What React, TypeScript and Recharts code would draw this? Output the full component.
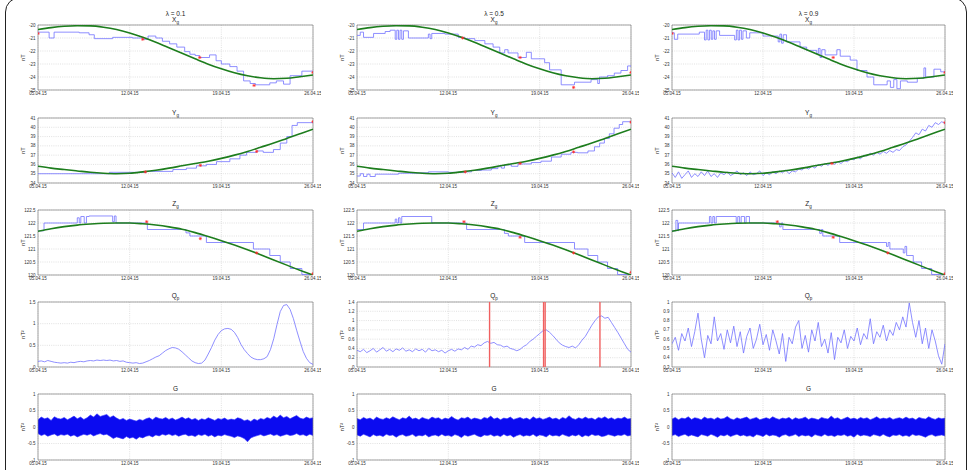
import React from 'react';
import {
  ComposedChart,
  Line,
  Area,
  Scatter,
  XAxis,
  YAxis,
  CartesianGrid,
  ReferenceLine,
  ReferenceArea,
  Label,
} from 'recharts';

// time axis, in days since 05.04.15
const DAY_TICKS = [0, 7, 14, 21];
const DATE_LABELS = ['05.04.15', '12.04.15', '19.04.15', '26.04.15'];
const LAMBDAS = ['0.1', '0.5', '0.9'];

const DAYS = [0, 1, 2, 3, 4, 5, 6, 7, 8, 9, 10, 11, 12, 13, 14, 15, 16, 17, 18, 19, 20, 21];
const T_FINE = [
  0, 0.25, 0.5, 0.75, 1, 1.25, 1.5, 1.75, 2, 2.25, 2.5, 2.75, 3, 3.25, 3.5, 3.75, 4, 4.25, 4.5, 4.75,
  5, 5.25, 5.5, 5.75, 6, 6.25, 6.5, 6.75, 7, 7.25, 7.5, 7.75, 8, 8.25, 8.5, 8.75, 9, 9.25, 9.5, 9.75,
  10, 10.25, 10.5, 10.75, 11, 11.25, 11.5, 11.75, 12, 12.25, 12.5, 12.75, 13, 13.25, 13.5, 13.75, 14,
  14.25, 14.5, 14.75, 15, 15.25, 15.5, 15.75, 16, 16.25, 16.5, 16.75, 17, 17.25, 17.5, 17.75, 18, 18.25,
  18.5, 18.75, 19, 19.25, 19.5, 19.75, 20, 20.25, 20.5, 20.75, 21,
];

// ---- X_g (nT) ----
const XG_MODEL = [
  -20.35, -20.2, -20.1, -20.06, -20.07, -20.17, -20.35, -20.62, -20.95, -21.33, -21.75, -22.18, -22.6,
  -23.01, -23.37, -23.68, -23.91, -24.06, -24.13, -24.1, -23.98, -23.85,
];
const XG_EST_01: [number, number][] = [
  [0, -20.55], [0.85, -21.0], [1.23, -20.55], [3.15, -20.6], [3.9, -20.75], [4.3, -21.05], [5.7, -20.95],
  [7.2, -21.0], [8.0, -21.1], [8.4, -20.85], [9.0, -21.0], [9.5, -21.25], [10.05, -21.45], [10.6, -21.7],
  [11.2, -22.05], [11.6, -22.25], [12.0, -22.35], [12.35, -22.5], [13.1, -22.3], [13.6, -22.75], [14.0, -23.0],
  [14.65, -23.2], [15.2, -23.55], [15.7, -24.3], [16.2, -24.5], [16.6, -24.6], [17.7, -24.45], [18.2, -24.3],
  [18.75, -24.55], [19.25, -23.9], [20.15, -23.55], [21, -23.55],
];
const XG_EST_05: [number, number][] = [
  [0, -20.8], [0.25, -20.55], [0.5, -20.95], [1.27, -20.65], [2.16, -20.5], [2.54, -20.4], [2.93, -21.1],
  [3.05, -20.4], [3.18, -21.1], [3.3, -20.4], [3.43, -21.1], [3.56, -20.45], [3.94, -21.0], [5.47, -20.7],
  [5.6, -21.05], [5.73, -20.65], [6.74, -20.7], [7.76, -20.95], [8.27, -21.05], [9.03, -21.2], [9.8, -21.45],
  [10.43, -21.7], [10.94, -22.15], [11.32, -21.9], [11.58, -22.15], [12.34, -22.5], [12.98, -22.1],
  [13.36, -22.6], [14.38, -22.9], [14.76, -23.45], [15.65, -24.6], [16.67, -24.4], [17.94, -24.2],
  [18.45, -24.5], [18.58, -24.0], [19.2, -23.9], [19.72, -23.7], [20.23, -23.5], [20.74, -23.15], [21, -23.2],
];
const XG_EST_09: [number, number][] = [
  [0, -20.6], [0.18, -21.1], [0.44, -20.7], [2.1, -20.55], [2.5, -21.15], [2.63, -20.4], [2.76, -21.15],
  [2.89, -20.4], [3.02, -21.1], [3.14, -20.45], [3.27, -21.1], [3.4, -20.45], [3.66, -20.8], [4.82, -21.15],
  [4.95, -20.4], [5.08, -21.15], [5.2, -20.4], [5.34, -21.1], [5.46, -20.45], [5.72, -21.0], [5.98, -20.6],
  [7.0, -20.85], [8.17, -21.3], [8.3, -20.7], [8.43, -21.4], [8.56, -20.75], [8.81, -21.3], [9.85, -21.7],
  [10.36, -21.95], [11.13, -22.2], [11.26, -21.8], [11.39, -22.5], [11.52, -21.9], [11.78, -22.3],
  [12.68, -21.9], [12.94, -22.4], [13.71, -22.7], [14.23, -23.5], [15.0, -24.0], [15.52, -24.6],
  [16.55, -24.3], [16.8, -24.8], [17.06, -24.2], [17.3, -24.9], [17.57, -24.3], [18.1, -24.4],
  [18.87, -24.1], [19.38, -23.3], [19.51, -24.0], [20.15, -23.4], [20.67, -23.6], [21, -23.6],
];
const XG_OBS_01: [number, number][] = [[0, -20.65], [8.0, -21.1], [12.35, -22.5], [16.5, -24.65], [21, -23.65]];
const XG_OBS_05: [number, number][] = [[8.1, -21.0], [12.5, -22.5], [16.6, -24.8], [21, -23.65]];
const XG_OBS_09: [number, number][] = [[0, -20.65], [12.4, -22.5], [21, -23.65]];

// ---- Y_g (nT) ----
const YG_MODEL = [
  35.8, 35.6, 35.45, 35.3, 35.15, 35.05, 35.0, 35.05, 35.2, 35.38, 35.6, 35.85, 36.1, 36.35, 36.65, 37.0,
  37.4, 37.85, 38.3, 38.8, 39.3, 39.8,
];
const YG_EST_01: [number, number][] = [
  [0, 35.0], [5.45, 35.15], [8.26, 35.25], [10.3, 35.45], [11.33, 35.6], [12.1, 35.85], [12.86, 36.0],
  [13.63, 36.3], [14.65, 36.6], [15.42, 37.0], [15.93, 37.3], [16.7, 37.45], [17.2, 37.3], [17.98, 37.6],
  [18.5, 38.3], [19.0, 39.0], [19.4, 40.2], [19.8, 40.5], [21, 40.55],
];
const YG_EST_05: [number, number][] = [
  [0, 34.75], [0.25, 35.0], [0.5, 34.7], [0.76, 34.95], [1.0, 34.7], [1.4, 34.95], [3.18, 35.05],
  [4.7, 35.1], [5.47, 35.2], [7.0, 35.15], [8.27, 35.2], [8.78, 35.35], [9.54, 35.4], [10.3, 35.55],
  [10.8, 35.75], [11.07, 35.6], [11.3, 35.95], [11.83, 35.8], [12.34, 36.05], [13.36, 36.2], [14.1, 36.35],
  [14.9, 36.8], [15.65, 37.1], [16.4, 37.3], [16.9, 37.25], [17.7, 37.45], [18.2, 37.9], [18.6, 38.3],
  [18.96, 38.8], [19.34, 39.3], [19.7, 39.9], [20.1, 40.3], [20.36, 40.6], [21, 40.55],
];
const YG_EST_09 = [
  35.1, 34.6, 35.2, 34.5, 34.9, 35.3, 34.6, 35.0, 34.7, 35.2,
  34.8, 35.3, 34.7, 35.0, 34.6, 35.1, 34.9, 35.2, 34.8, 35.0,
  35.3, 34.9, 35.1, 34.8, 35.2, 34.9, 35.0, 35.3, 34.8, 35.1,
  34.9, 35.2, 35.0, 35.3, 35.1, 35.4, 35.0, 35.3, 35.2, 35.5,
  35.4, 35.7, 35.5, 35.8, 35.6, 36.0, 35.8, 36.1, 35.9, 36.2,
  36.0, 36.3, 36.1, 36.4, 36.3, 36.6, 36.5, 36.8, 36.6, 37.0,
  36.9, 37.2, 37.0, 37.3, 37.1, 37.4, 37.2, 37.5, 37.3, 37.6,
  37.5, 37.9, 38.1, 38.5, 38.9, 39.4, 39.2, 39.8, 39.6, 40.2,
  40.0, 40.5, 40.3, 40.6, 40.4,
];
const YG_OBS_01: [number, number][] = [[8.2, 35.2], [12.4, 35.9], [16.7, 37.4], [21, 40.6]];
const YG_OBS_05: [number, number][] = [[8.3, 35.2], [12.5, 36.1], [16.6, 37.35], [21, 40.55]];
const YG_OBS_09: [number, number][] = [[12.3, 36.1], [21, 40.5]];

// ---- Z_g (nT) ----
const ZG_MODEL = [
  121.68, 121.78, 121.86, 121.92, 121.96, 121.99, 122.0, 122.0, 121.97, 121.92, 121.85, 121.76, 121.63,
  121.48, 121.32, 121.15, 120.97, 120.78, 120.58, 120.38, 120.18, 120.0,
];
const ZG_EST_01: [number, number][] = [
  [0, 121.7], [0.46, 122.0], [3.0, 122.2], [3.15, 122.0], [3.27, 122.25], [3.53, 122.0], [3.7, 122.25],
  [3.9, 122.27], [5.7, 122.05], [5.83, 122.27], [5.96, 122.0], [8.35, 121.75], [11.3, 121.62],
  [11.6, 121.5], [12.86, 121.25], [16.45, 121.0], [17.7, 120.75], [18.5, 120.5], [19.26, 120.25],
  [20.15, 120.02], [21, 120.02],
];
const ZG_EST_05: [number, number][] = [
  [0, 121.75], [0.5, 122.0], [2.93, 122.15], [3.05, 122.0], [3.18, 122.2], [3.3, 122.0], [3.43, 122.25],
  [5.73, 122.0], [8.4, 121.75], [11.3, 121.6], [11.6, 121.5], [12.85, 121.25], [16.67, 121.0],
  [17.7, 120.75], [18.45, 120.5], [19.2, 120.25], [19.97, 120.02], [21, 120.02],
];
const ZG_EST_09: [number, number][] = [
  [0, 121.7], [0.3, 122.1], [0.44, 121.7], [0.5, 122.0], [2.88, 122.25], [3.0, 122.0], [3.14, 122.25],
  [3.26, 122.0], [3.4, 122.25], [4.94, 122.0], [5.06, 122.25], [5.2, 122.0], [5.32, 122.25], [5.58, 122.0],
  [5.7, 122.25], [5.96, 122.0], [8.28, 121.85], [8.4, 122.0], [8.53, 121.75], [11.36, 121.6],
  [11.49, 121.75], [11.6, 121.5], [12.9, 121.25], [16.5, 121.1], [16.63, 121.25], [16.76, 121.0],
  [17.79, 120.85], [17.92, 121.1], [18.05, 120.75], [18.56, 120.5], [19.2, 120.25], [19.97, 120.02],
  [21, 120.02],
];
const ZG_OBS_01: [number, number][] = [[8.3, 122.05], [12.4, 121.4], [16.7, 120.85], [21, 120.05]];
const ZG_OBS_05: [number, number][] = [[8.2, 122.05], [12.5, 121.45], [16.6, 120.85], [21, 120.1]];
const ZG_OBS_09: [number, number][] = [[8.1, 122.05], [12.4, 121.45], [16.6, 120.85], [21, 120.05]];

// ---- Q_p (nT^2) ----
const QP_01 = [
  0.13, 0.14, 0.12, 0.15, 0.13, 0.11, 0.1, 0.09, 0.1, 0.09,
  0.11, 0.1, 0.12, 0.13, 0.12, 0.14, 0.15, 0.14, 0.16, 0.15,
  0.16, 0.15, 0.16, 0.14, 0.15, 0.13, 0.14, 0.11, 0.1, 0.09,
  0.1, 0.08, 0.09, 0.12, 0.15, 0.19, 0.23, 0.26, 0.32, 0.38,
  0.42, 0.45, 0.44, 0.41, 0.35, 0.28, 0.21, 0.14, 0.1, 0.08,
  0.09, 0.16, 0.3, 0.45, 0.62, 0.75, 0.84, 0.88, 0.89, 0.87,
  0.8, 0.68, 0.52, 0.4, 0.31, 0.23, 0.19, 0.17, 0.17, 0.19,
  0.24, 0.4, 0.65, 0.98, 1.28, 1.42, 1.44, 1.33, 1.12, 0.85,
  0.6, 0.36, 0.2, 0.1, 0.06,
];
const QP_05 = [
  0.36, 0.33, 0.38, 0.31, 0.35, 0.4, 0.32, 0.37, 0.42, 0.34,
  0.38, 0.33, 0.39, 0.36, 0.41, 0.34, 0.37, 0.33, 0.39, 0.35,
  0.38, 0.32, 0.4, 0.35, 0.37, 0.33, 0.36, 0.3, 0.35, 0.38,
  0.34, 0.39, 0.37, 0.42, 0.38, 0.45, 0.43, 0.48, 0.46, 0.52,
  0.55, 0.51, 0.53, 0.48, 0.47, 0.43, 0.45, 0.4, 0.38, 0.35,
  0.38, 0.44, 0.48, 0.55, 0.6, 0.66, 0.72, 0.78, 0.8, 0.75,
  0.68, 0.6, 0.52, 0.47, 0.44, 0.42, 0.45, 0.41, 0.48, 0.58,
  0.66, 0.78, 0.9, 1.0, 1.08, 1.1, 1.05, 1.07, 0.96, 0.85,
  0.74, 0.62, 0.5, 0.38, 0.32,
];
const QP_09 = [
  0.55, 0.62, 0.48, 0.66, 0.58, 0.72, 0.52, 0.68, 0.88, 0.6,
  0.4, 0.64, 0.55, 0.84, 0.58, 0.66, 0.49, 0.7, 0.56, 0.74,
  0.52, 0.68, 0.45, 0.63, 0.72, 0.5, 0.6, 0.76, 0.54, 0.65,
  0.48, 0.7, 0.58, 0.44, 0.66, 0.36, 0.62, 0.55, 0.73, 0.8,
  0.5, 0.64, 0.46, 0.7, 0.58, 0.78, 0.52, 0.6, 0.45, 0.67,
  0.38, 0.62, 0.56, 0.7, 0.5, 0.63, 0.58, 0.72, 0.54, 0.66,
  0.6, 0.82, 0.55, 0.68, 0.62, 0.75, 0.58, 0.7, 0.64, 0.78,
  0.7, 0.84, 0.73, 0.99, 0.78, 0.62, 0.8, 0.55, 0.72, 0.5,
  0.7, 0.58, 0.42, 0.33, 0.55,
];
// detected events for lambda = 0.5 (days)
const QP_EVENTS_05 = [10.16, 14.3, 14.42, 18.62];

// ---- G (nT^2): spread of the residual, lower / upper envelope ----
const G_HI_01 = [
  0.22, 0.3, 0.25, 0.28, 0.2, 0.31, 0.26, 0.24, 0.29, 0.22, 0.27, 0.33, 0.25, 0.3, 0.23, 0.28, 0.36,
  0.3, 0.4, 0.32, 0.35, 0.38, 0.29, 0.34, 0.27, 0.22, 0.26, 0.2, 0.24, 0.21, 0.18, 0.23, 0.2, 0.25, 0.28,
  0.22, 0.3, 0.26, 0.24, 0.29, 0.23, 0.27, 0.21, 0.25, 0.3, 0.24, 0.28, 0.22, 0.26, 0.2, 0.25, 0.22,
  0.28, 0.24, 0.2, 0.26, 0.23, 0.27, 0.21, 0.24, 0.22, 0.28, 0.25, 0.19, 0.22, 0.17, 0.24, 0.2, 0.26,
  0.23, 0.29, 0.25, 0.33, 0.27, 0.36, 0.28, 0.32, 0.25, 0.3, 0.35, 0.27, 0.24, 0.3, 0.26, 0.28,
];
const G_LO_01 = [
  -0.2, -0.26, -0.22, -0.28, -0.24, -0.21, -0.27, -0.23, -0.25, -0.22, -0.28, -0.24, -0.3, -0.26, -0.22,
  -0.25, -0.21, -0.27, -0.23, -0.2, -0.24, -0.22, -0.28, -0.35, -0.3, -0.33, -0.36, -0.29, -0.34, -0.31,
  -0.37, -0.3, -0.33, -0.28, -0.26, -0.3, -0.24, -0.27, -0.22, -0.25, -0.21, -0.26, -0.23, -0.28, -0.24,
  -0.22, -0.27, -0.25, -0.29, -0.23, -0.26, -0.22, -0.28, -0.24, -0.3, -0.25, -0.27, -0.23, -0.26, -0.28,
  -0.32, -0.27, -0.3, -0.35, -0.45, -0.33, -0.29, -0.26, -0.23, -0.27, -0.24, -0.21, -0.26, -0.23, -0.28,
  -0.25, -0.22, -0.26, -0.24, -0.2, -0.25, -0.23, -0.27, -0.22, -0.26,
];
const G_HI_05 = [
  0.26, 0.22, 0.29, 0.24, 0.27, 0.21, 0.3, 0.25, 0.23, 0.28, 0.24, 0.31, 0.26, 0.22, 0.28, 0.25, 0.33,
  0.24, 0.27, 0.22, 0.29, 0.25, 0.23, 0.3, 0.26, 0.28, 0.22, 0.27, 0.24, 0.32, 0.25, 0.21, 0.28, 0.26,
  0.3, 0.23, 0.27, 0.25, 0.22, 0.29, 0.26, 0.33, 0.24, 0.28, 0.22, 0.27, 0.25, 0.3, 0.23, 0.26, 0.29,
  0.24, 0.27, 0.22, 0.31, 0.25, 0.28, 0.23, 0.26, 0.3, 0.24, 0.27, 0.22, 0.29, 0.25, 0.34, 0.26, 0.23,
  0.28, 0.24, 0.3, 0.25, 0.27, 0.22, 0.29, 0.26, 0.31, 0.24, 0.28, 0.23, 0.27, 0.25, 0.3, 0.24, 0.26,
];
const G_LO_05 = [
  -0.24, -0.28, -0.22, -0.26, -0.3, -0.23, -0.27, -0.25, -0.29, -0.22, -0.26, -0.24, -0.31, -0.25, -0.23,
  -0.28, -0.26, -0.22, -0.29, -0.25, -0.27, -0.23, -0.3, -0.26, -0.24, -0.28, -0.22, -0.27, -0.25, -0.29,
  -0.23, -0.26, -0.32, -0.24, -0.28, -0.25, -0.22, -0.27, -0.3, -0.24, -0.26, -0.23, -0.28, -0.25, -0.29,
  -0.22, -0.27, -0.24, -0.31, -0.26, -0.23, -0.28, -0.25, -0.27, -0.22, -0.29, -0.24, -0.26, -0.3, -0.23,
  -0.27, -0.25, -0.28, -0.22, -0.26, -0.29, -0.24, -0.27, -0.23, -0.3, -0.25, -0.28, -0.22, -0.26, -0.24,
  -0.29, -0.27, -0.23, -0.25, -0.28, -0.24, -0.26, -0.22, -0.27, -0.25,
];
const G_HI_09 = [
  0.24, 0.29, 0.22, 0.27, 0.25, 0.31, 0.23, 0.28, 0.26, 0.22, 0.3, 0.25, 0.27, 0.23, 0.29, 0.24, 0.26,
  0.32, 0.25, 0.22, 0.28, 0.24, 0.27, 0.3, 0.23, 0.26, 0.29, 0.22, 0.25, 0.28, 0.24, 0.31, 0.26, 0.23,
  0.27, 0.25, 0.29, 0.22, 0.28, 0.24, 0.26, 0.3, 0.23, 0.27, 0.25, 0.22, 0.29, 0.26, 0.24, 0.33, 0.25,
  0.28, 0.22, 0.26, 0.3, 0.24, 0.27, 0.23, 0.29, 0.25, 0.28, 0.22, 0.26, 0.31, 0.24, 0.27, 0.25, 0.29,
  0.23, 0.26, 0.28, 0.24, 0.3, 0.25, 0.27, 0.22, 0.29, 0.26, 0.24, 0.31, 0.26, 0.23, 0.28, 0.25, 0.27,
];
const G_LO_09 = [
  -0.26, -0.23, -0.29, -0.25, -0.22, -0.28, -0.24, -0.27, -0.3, -0.23, -0.25, -0.28, -0.22, -0.26, -0.31,
  -0.24, -0.27, -0.23, -0.29, -0.25, -0.22, -0.27, -0.24, -0.28, -0.26, -0.3, -0.23, -0.25, -0.29, -0.22,
  -0.27, -0.24, -0.26, -0.31, -0.25, -0.23, -0.28, -0.26, -0.22, -0.29, -0.24, -0.27, -0.25, -0.3, -0.23,
  -0.26, -0.28, -0.22, -0.27, -0.25, -0.29, -0.24, -0.26, -0.23, -0.28, -0.25, -0.31, -0.22, -0.27, -0.24,
  -0.26, -0.29, -0.23, -0.25, -0.28, -0.22, -0.27, -0.3, -0.24, -0.26, -0.23, -0.28, -0.25, -0.29, -0.22,
  -0.26, -0.24, -0.27, -0.31, -0.25, -0.23, -0.28, -0.26, -0.24, -0.27,
];

type Pt = { t: number; v: number };
type Band = { t: number; r: [number, number] };

const fromPairs = (pairs: [number, number][]): Pt[] => pairs.map(([t, v]) => ({ t, v }));
const onTimes = (times: number[], vals: number[]): Pt[] => times.map((t, i) => ({ t, v: vals[i] }));
const envelope = (lo: number[], hi: number[]): Band[] => T_FINE.map((t, i) => ({ t, r: [lo[i], hi[i]] }));

// subplot grid: columns = lambda, rows = component
const COLS = [
  { x: 38, w: 275 },
  { x: 357, w: 274 },
  { x: 672, w: 273 },
];
const ROWS = [
  { y: 25, h: 65 },
  { y: 118, h: 65 },
  { y: 210, h: 65 },
  { y: 302, h: 65 },
  { y: 394, h: 66 },
];

const FONT = '"Liberation Sans", Arial, sans-serif';
const TICK = { fontSize: 4.5, fill: '#333', fontFamily: FONT };

// small red asterisk for the observatory samples
const Asterisk = (props: any) => {
  const { cx, cy } = props;
  if (cx == null || cy == null) return null;
  return (
    <path
      d={`M${cx - 1.6},${cy}h3.2M${cx},${cy - 1.6}v3.2M${cx - 1.1},${cy - 1.1}l2.2,2.2M${cx - 1.1},${cy + 1.1}l2.2,-2.2`}
      stroke="#ff2a2a"
      strokeWidth={0.7}
      fill="none"
    />
  );
};

type PanelProps = {
  col: number;
  row: number;
  domain: [number, number];
  ticks: number[];
  unit: string;
  model?: number[];
  est?: Pt[];
  estType?: 'stepAfter' | 'linear' | 'monotone';
  obs?: Pt[];
  band?: Band[];
  events?: number[];
};

function Panel(p: PanelProps) {
  const { x, w } = COLS[p.col];
  const { y, h } = ROWS[p.row];
  const ML = 40;
  const MR = 8;
  const MT = 3;
  const MB = 9;
  return (
    <div style={{ position: 'absolute', left: x - ML, top: y - MT }}>
      <ComposedChart
        width={w + ML + MR}
        height={h + MT + MB}
        margin={{ top: MT, right: MR, bottom: 0, left: 0 }}
      >
        <CartesianGrid stroke="#cdcdcd" strokeDasharray="1 1.2" strokeWidth={0.6} />
        <XAxis
          type="number"
          dataKey="t"
          domain={[0, 21]}
          ticks={DAY_TICKS}
          interval={0}
          allowDataOverflow
          tickFormatter={(d: number) => DATE_LABELS[DAY_TICKS.indexOf(d)]}
          height={MB}
          tickLine={false}
          axisLine={false}
          tickSize={0}
          tickMargin={2}
          tick={TICK}
        />
        <YAxis
          type="number"
          domain={p.domain}
          ticks={p.ticks}
          interval={0}
          allowDataOverflow
          width={ML}
          tickLine={false}
          axisLine={false}
          tickSize={0}
          tickMargin={2.5}
          tick={TICK}
        >
          <Label
            value={p.unit}
            angle={-90}
            position="center"
            dx={5}
            style={{ fontSize: 5.5, fill: '#222', fontFamily: FONT }}
          />
        </YAxis>
        {p.band && (
          <Area
            data={p.band}
            dataKey="r"
            type="linear"
            fill="#0b0bf0"
            fillOpacity={1}
            stroke="#3434ff"
            strokeWidth={0.6}
            dot={false}
            activeDot={false}
            isAnimationActive={false}
          />
        )}
        {p.est && (
          <Line
            data={p.est}
            dataKey="v"
            type={p.estType ?? 'linear'}
            stroke="#7272ff"
            strokeWidth={0.8}
            dot={false}
            activeDot={false}
            isAnimationActive={false}
          />
        )}
        {p.model && (
          <Line
            data={onTimes(DAYS, p.model)}
            dataKey="v"
            type="monotone"
            stroke="#1d7d1d"
            strokeWidth={1.6}
            dot={false}
            activeDot={false}
            isAnimationActive={false}
          />
        )}
        {p.events?.map((d) => (
          <ReferenceLine key={d} x={d} stroke="#f06060" strokeWidth={1.4} />
        ))}
        {p.obs && <Scatter data={p.obs} dataKey="v" shape={Asterisk} isAnimationActive={false} />}
        <ReferenceArea
          x1={0}
          x2={21}
          y1={p.domain[0]}
          y2={p.domain[1]}
          fill="none"
          stroke="#808080"
          strokeWidth={0.7}
        />
      </ComposedChart>
    </div>
  );
}

const Sub = ({ children }: { children: React.ReactNode }) => (
  <span style={{ fontSize: 4.5, position: 'relative', top: 2 }}>{children}</span>
);

function Title({ col, top, children }: { col: number; top: number; children: React.ReactNode }) {
  const { x, w } = COLS[col];
  return (
    <div
      style={{
        position: 'absolute',
        left: x,
        width: w,
        top,
        textAlign: 'center',
        fontSize: 6.5,
        lineHeight: '7px',
        color: '#222',
        fontFamily: FONT,
      }}
    >
      {children}
    </div>
  );
}

const XG_TICKS = [-25, -24, -23, -22, -21, -20];
const YG_TICKS = [34, 35, 36, 37, 38, 39, 40, 41];
const ZG_TICKS = [120, 120.5, 121, 121.5, 122, 122.5];
const QP_TICKS_01 = [0, 0.5, 1, 1.5];
const QP_TICKS_05 = [0, 0.2, 0.4, 0.6, 0.8, 1, 1.2, 1.4];
const QP_TICKS_09 = [0.3, 0.4, 0.5, 0.6, 0.7, 0.8, 0.9, 1];
const G_TICKS = [-1, -0.5, 0, 0.5, 1];

export default function App() {
  const xgEst = [XG_EST_01, XG_EST_05, XG_EST_09];
  const xgObs = [XG_OBS_01, XG_OBS_05, XG_OBS_09];
  const zgEst = [ZG_EST_01, ZG_EST_05, ZG_EST_09];
  const zgObs = [ZG_OBS_01, ZG_OBS_05, ZG_OBS_09];
  const ygObs = [YG_OBS_01, YG_OBS_05, YG_OBS_09];
  const gBands = [envelope(G_LO_01, G_HI_01), envelope(G_LO_05, G_HI_05), envelope(G_LO_09, G_HI_09)];

  return (
    <div
      style={{
        position: 'absolute',
        left: 0,
        top: 0,
        width: 971,
        height: 470,
        background: '#fff',
        overflow: 'hidden',
        fontFamily: FONT,
      }}
    >
      <div
        style={{
          position: 'absolute',
          left: 5,
          top: -3,
          width: 962,
          height: 490,
          boxSizing: 'border-box',
          border: '1.5px solid #222',
          borderRadius: 15,
        }}
      />

      {[0, 1, 2].map((c) => (
        <React.Fragment key={c}>
          <Title col={c} top={10}>λ = {LAMBDAS[c]}</Title>
          <Title col={c} top={15.5}>X<Sub>g</Sub></Title>
          <Title col={c} top={108.5}>Y<Sub>g</Sub></Title>
          <Title col={c} top={200}>Z<Sub>g</Sub></Title>
          <Title col={c} top={291.5}>Q<Sub>p</Sub></Title>
          <Title col={c} top={385}>G</Title>

          <Panel
            col={c}
            row={0}
            domain={[-25, -20]}
            ticks={XG_TICKS}
            unit="nT"
            model={XG_MODEL}
            est={fromPairs(xgEst[c])}
            estType="stepAfter"
            obs={fromPairs(xgObs[c])}
          />
          <Panel
            col={c}
            row={1}
            domain={[34, 41]}
            ticks={YG_TICKS}
            unit="nT"
            model={YG_MODEL}
            est={c === 2 ? onTimes(T_FINE, YG_EST_09) : fromPairs(c === 0 ? YG_EST_01 : YG_EST_05)}
            estType={c === 2 ? 'linear' : 'stepAfter'}
            obs={fromPairs(ygObs[c])}
          />
          <Panel
            col={c}
            row={2}
            domain={[120, 122.5]}
            ticks={ZG_TICKS}
            unit="nT"
            model={ZG_MODEL}
            est={fromPairs(zgEst[c])}
            estType="stepAfter"
            obs={fromPairs(zgObs[c])}
          />
          <Panel col={c} row={4} domain={[-1, 1]} ticks={G_TICKS} unit="nT²" band={gBands[c]} />
        </React.Fragment>
      ))}

      <Panel col={0} row={3} domain={[0, 1.5]} ticks={QP_TICKS_01} unit="nT²" est={onTimes(T_FINE, QP_01)} />
      <Panel
        col={1}
        row={3}
        domain={[0, 1.4]}
        ticks={QP_TICKS_05}
        unit="nT²"
        est={onTimes(T_FINE, QP_05)}
        events={QP_EVENTS_05}
      />
      <Panel col={2} row={3} domain={[0.3, 1]} ticks={QP_TICKS_09} unit="nT²" est={onTimes(T_FINE, QP_09)} />
    </div>
  );
}
